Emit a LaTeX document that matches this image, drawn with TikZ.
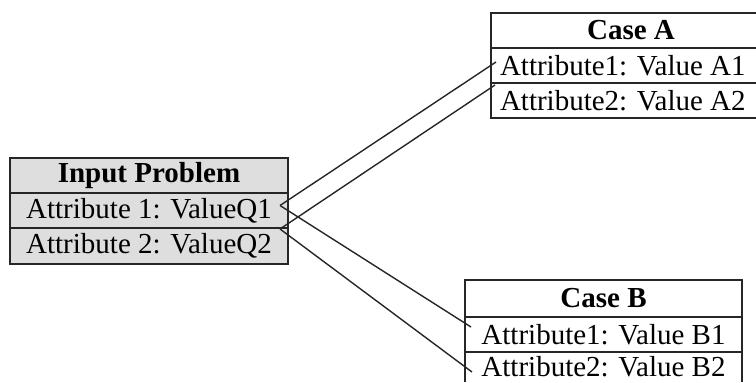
\documentclass[tikz,border=0pt]{standalone}
\usepackage{fontspec}
\setmainfont{Liberation Serif}
\begin{document}
\begin{tikzpicture}[x=1pt,y=-1pt,
  cell/.style={draw=black!85, line width=1.4pt, inner sep=0pt, outer sep=0pt,
    minimum height=35pt, font=\fontsize{29}{34}\selectfont},
  inbox/.style={cell, fill=black!13, minimum width=278pt},
  abox/.style={cell, minimum width=280pt},
  bbox/.style={cell, minimum width=277pt},
  edge/.style={line width=1.4pt, draw=black!85},
  link/.style={line width=1.4pt, black!85}]
\useasboundingbox (0,0) rectangle (756,383);
\clip (0,0) rectangle (756,383);
% Input problem
\node[inbox] (in0) at (149,175.5) {\bfseries Input Problem};
\node[inbox] (in1) at (149,210.5) {Attribute 1: ValueQ1};
\node[inbox, minimum height=36pt] (in2) at (149,246) {Attribute 2: ValueQ2};
% Case A
\node[abox] (a0) at (631,30.5) {\bfseries Case A};
\node[abox] (a1) at (631,65.5) {\makebox[262pt][l]{Attribute1: Value A1}};
\node[abox] (a2) at (631,100.5) {\makebox[262pt][l]{Attribute2: Value A2}};
% Case B
\node[bbox, minimum height=37pt] (b0) at (603.5,298.5) {\bfseries Case B};
\node[bbox] (b1) at (603.5,334.5) {Attribute1: Value B1};
\node[bbox, draw=none, minimum height=30pt] (b2) at (603.5,367) {\raisebox{-2pt}{Attribute2: Value B2}};
\draw[edge] (b2.south west) -- (b2.north west) -- (b2.north east) -- (b2.south east);
% links
\draw[link] ([xshift=-8pt,yshift=5pt]in1.east) -- ([xshift=5pt,yshift=3.5pt]a1.west);
\draw[link] ([xshift=-8pt,yshift=5pt]in1.east) -- ([xshift=6pt,yshift=7.5pt]b1.west);
\draw[link] ([xshift=-8pt,yshift=-1pt]in1.south east) -- ([xshift=4pt,yshift=-2pt]a2.north west);
\draw[link] ([xshift=-8pt,yshift=-1pt]in1.south east) -- ([xshift=7pt,yshift=-5pt]b2.west);
\end{tikzpicture}
\end{document}
